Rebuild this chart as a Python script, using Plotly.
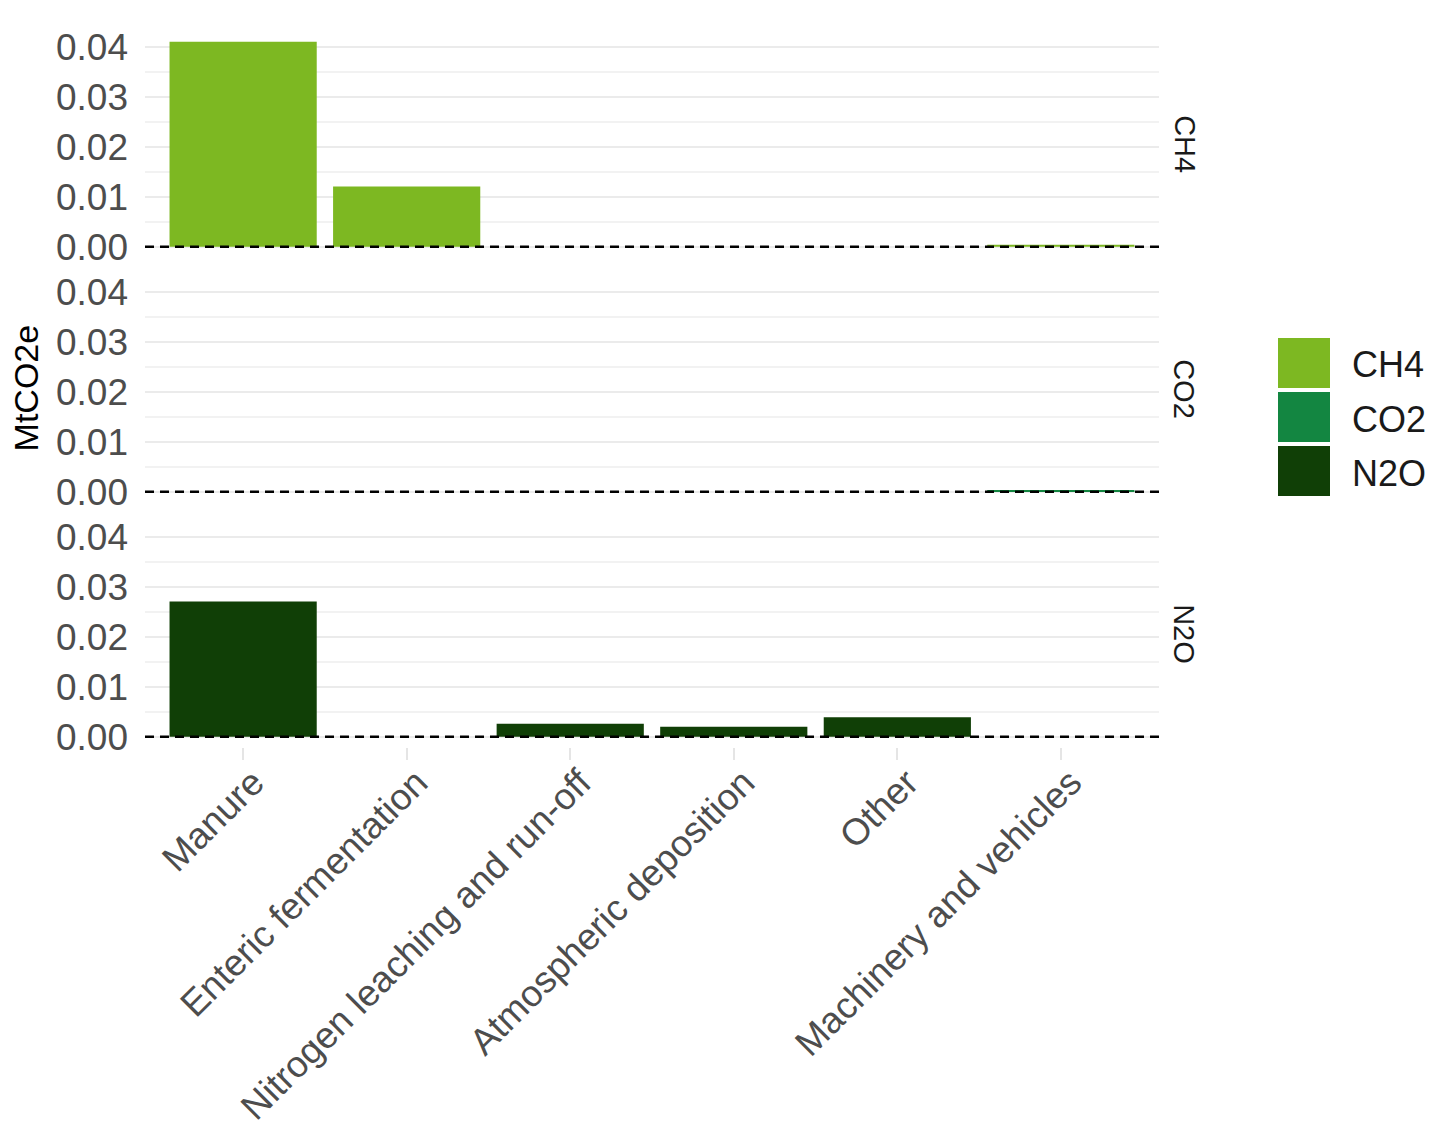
import plotly.graph_objects as go
from plotly.subplots import make_subplots

categories = ["Manure", "Enteric fermentation", "Nitrogen leaching and run-off",
              "Atmospheric deposition", "Other", "Machinery and vehicles"]
gases = ["CH4", "CO2", "N2O"]
ch4_values = [0.0411, 0.0121, 0.0, 0.0, 0.0, 0.0004]
co2_values = [0.0, 0.0, 0.0, 0.0, 0.0, 0.0003]
n2o_values = [0.0271, 0.0, 0.0026, 0.0020, 0.0039, 0.0]
y_ticks = [0.00, 0.01, 0.02, 0.03, 0.04]
y_tick_labels = ["0.00", "0.01", "0.02", "0.03", "0.04"]

colors = {"CH4": "#7db822", "CO2": "#138641", "N2O": "#103f06"}
values = {"CH4": ch4_values, "CO2": co2_values, "N2O": n2o_values}

text_grey = "#4d4d4d"
font_family = "Liberation Sans, Arial, sans-serif"

fig = make_subplots(rows=3, cols=1, shared_xaxes=True, vertical_spacing=0.028)

for i, gas in enumerate(gases):
    fig.add_trace(go.Bar(
        x=categories, y=values[gas], name=gas,
        marker=dict(color=colors[gas], line=dict(width=0)),
        width=0.9, showlegend=False,
    ), row=i + 1, col=1)
    # dashed zero line drawn over the bars
    fig.add_hline(y=0, row=i + 1, col=1, layer="above",
                  line=dict(color="black", width=2.5, dash="9px,6px"))
    fig.update_yaxes(
        range=[-0.00205, 0.04305],
        tickvals=y_ticks, ticktext=y_tick_labels,
        showgrid=True, gridcolor="#ebebeb", gridwidth=2,
        minor=dict(dtick=0.005, tick0=0, showgrid=True, gridcolor="#f2f2f2", gridwidth=2),
        zeroline=False, showline=False, ticks="",
        tickfont=dict(size=37, color=text_grey, family=font_family),
        ticklabelstandoff=16,
        row=i + 1, col=1,
    )
    # facet strip label
    fig.add_annotation(
        text=gas, xref="x domain", yref="y domain" if i == 0 else f"y{i + 1} domain",
        x=1.025, y=0.5, showarrow=False, textangle=90,
        xanchor="center", yanchor="middle",
        font=dict(size=29, color="#1a1a1a", family=font_family),
    )

fig.update_xaxes(
    range=[-0.6, 5.6], showgrid=False, zeroline=False, showline=False,
    tickfont=dict(size=37, color=text_grey, family=font_family),
    tickangle=-45,
)
fig.update_xaxes(ticks="outside", ticklen=12, tickwidth=2, tickcolor="#e5e5e5",
                 ticklabelstandoff=-14, ticklabelshift=10, row=3, col=1)

# y-axis title
fig.add_annotation(
    text="MtCO2e", xref="paper", yref="paper", x=-0.117, y=0.502,
    showarrow=False, textangle=-90, xanchor="center", yanchor="middle",
    font=dict(size=34, color="black", family=font_family),
)

# manual legend with large keys
legend_top = 338
for i, gas in enumerate(gases):
    top = legend_top + i * 54
    bot = top + 50
    fig.add_shape(
        type="rect", xref="paper", yref="paper",
        x0=(1278 - 145) / 1014, x1=(1330 - 145) / 1014,
        y0=(747 - bot) / 715, y1=(747 - top) / 715,
        fillcolor=colors[gas], line=dict(width=0),
    )
    fig.add_annotation(
        text=gas, xref="paper", yref="paper",
        x=(1350 - 145) / 1014, y=(747 - (top + 27)) / 715,
        showarrow=False, xanchor="left", yanchor="middle",
        font=dict(size=36, color="#1a1a1a", family=font_family),
    )

fig.update_layout(
    width=1456, height=1148,
    margin=dict(l=137, r=305, t=24, b=409),
    paper_bgcolor="white", plot_bgcolor="white",
    bargap=0.1, showlegend=False,
    font=dict(family=font_family),
)

fig.write_html("out.html")
